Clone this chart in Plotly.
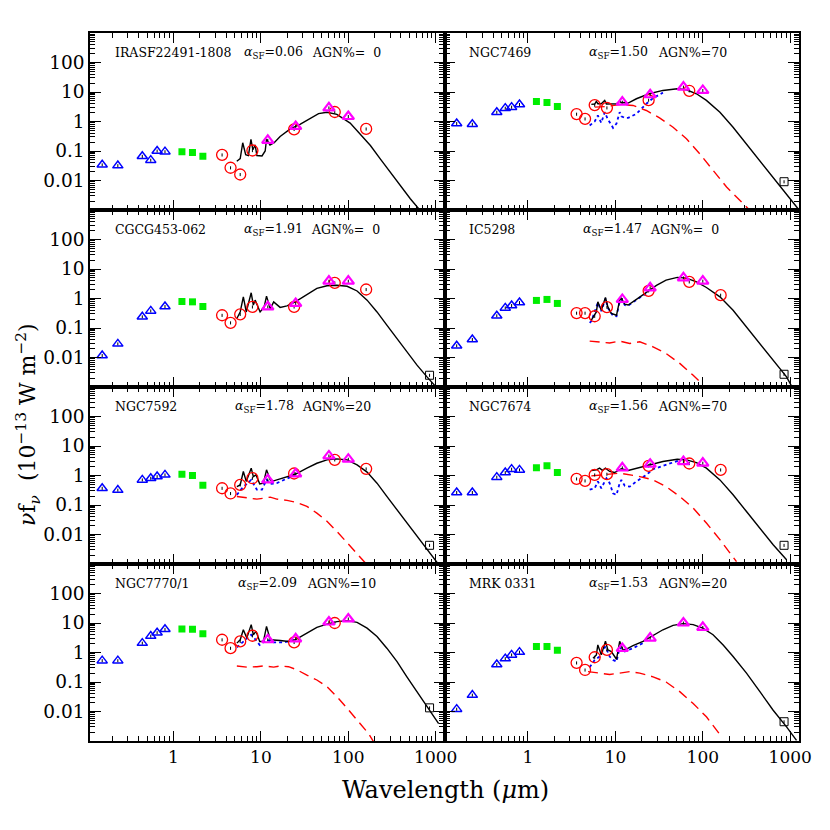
import plotly.graph_objects as go
from plotly.subplots import make_subplots

# common band wavelengths (micron)
opt_wl = [0.153, 0.231, 0.44, 0.55, 0.65, 0.80]
nir_wl = [1.25, 1.65, 2.17]
spitzer_wl = [3.6, 4.5, 5.8, 8.0, 24, 70, 160]
iras_wl = [12, 25, 60, 100]
submm_wl = [850]

names = ["IRASF22491-1808", "NGC7469", "CGCG453-062", "IC5298",
         "NGC7592", "NGC7674", "NGC7770/1", "MRK 0331"]
alpha_sf = ["0.06", "1.50", "1.91", "1.47", "1.78", "1.56", "2.09", "1.53"]
agn_pct = [" 0", "70", " 0", " 0", "20", "70", "10", "20"]

# ---- photometry (1e-13 W m^-2) ----
p1_opt = [0.034, 0.032, 0.066, 0.049, 0.10, 0.095]
p1_nir = [0.095, 0.089, 0.066]
p1_spz = [0.074, 0.027, 0.016, 0.104, 0.54, 2.1, 0.56]
p1_iras = [0.23, 0.68, 2.9, 1.48]
p1_sub = [None]

p2_opt = [0.855, 0.81, 2.07, 2.84, 3.07, 3.78]
p2_nir = [4.78, 4.4, 3.23]
p2_spz = [1.78, 1.23, 3.59, 2.91, 5.3, 11, None]
p2_iras = [4.54, 8.06, 14.7, 11.3]
p2_sub = [0.0091]

p3_opt = [0.0117, 0.029, 0.24, 0.38, None, 0.535]
p3_nir = [0.79, 0.77, 0.535]
p3_spz = [0.27, 0.15, 0.29, 0.52, 0.52, 3.4, 2.02]
p3_iras = [0.52, 0.68, 3.87, 3.87]
p3_sub = [0.0025]

p4_opt = [0.025, 0.041, 0.26, 0.48, 0.58, 0.73]
p4_nir = [0.86, 0.93, 0.68]
p4_spz = [0.32, 0.32, 0.25, 0.51, 1.82, 3.67, 1.3]
p4_iras = [0.93, 2.3, 5.0, 3.87]
p4_sub = [0.0027]

p5_opt = [0.37, 0.32, 0.71, 0.81, 0.92, 1.05]
p5_nir = [1.1, 1.0, 0.47]
p5_spz = [0.37, 0.246, 0.48, 0.81, 1.17, 3.4, 1.68]
p5_iras = [0.71, 1.14, 4.6, 3.57]
p5_sub = [0.0043]

p6_opt = [0.266, 0.266, 0.88, 1.26, 1.64, 1.55]
p6_nir = [1.82, 2.12, 1.26]
p6_spz = [0.77, 0.66, 1.05, 1.11, 2.12, 2.55, 1.55]
p6_iras = [1.82, 2.42, 2.97, 2.62]
p6_sub = [0.0043]

p7_opt = [0.53, 0.53, 2.08, 3.6, 4.7, 6.1]
p7_nir = [6.2, 6.1, 4.3]
p7_spz = [2.7, 1.4, 2.37, 3.7, 2.2, 10, None]
p7_iras = [2.7, 2.9, 10.8, 13.7]
p7_sub = [0.0133]

p8_opt = [0.012, 0.036, 0.39, 0.62, 0.83, 1.03]
p8_nir = [1.6, 1.6, 1.2]
p8_spz = [0.445, 0.256, 0.69, 1.23, None, None, None]
p8_iras = [1.37, 3.08, 10, 7.1]
p8_sub = [0.0045]

# ---- model curves: total (solid), starburst (dotted), AGN (dashed) ----
p1_tot_wl = [5.3, 5.8, 6.2, 6.7, 7.2, 7.7, 8.1, 8.6, 9.0, 10.3, 11.2, 11.6, 12.7, 14.2,
             16.6, 21.7, 28, 36.7, 45.7, 57, 74, 105, 137, 179, 232, 302, 394, 512, 693, 800]
p1_tot_f = [0.045, 0.055, 0.19, 0.075, 0.07, 0.25, 0.11, 0.16, 0.07, 0.068, 0.1, 0.25, 0.16, 0.19,
            0.31, 0.56, 0.8, 1.25, 1.85, 2.05, 1.75, 0.88, 0.38, 0.153, 0.054, 0.019, 0.0067,
            0.0024, 0.00083, 0.0005]

p2_tot_wl = [5.31, 5.8, 6.06, 6.3, 6.9, 7.55, 7.9, 8.6, 9.4, 10.3, 11.2, 11.7, 12.8, 14.0,
             17.4, 24.3, 35, 51, 65, 84.6, 110, 157, 222, 316, 450, 638, 908, 1230]
p2_tot_f = [3.8, 3.9, 4.8, 4.0, 4.0, 5.2, 3.9, 3.9, 3.8, 4.0, 4.9, 4.3, 4.4, 4.2,
            5.9, 8.7, 11.3, 12.9, 11.9, 8.7, 5.2, 2.07, 0.64, 0.17, 0.047, 0.013, 0.0035, 0.0011]
p2_sb_wl = [5.08, 5.31, 5.8, 6.3, 6.9, 7.55, 8.2, 9.4, 10.3, 11.2, 11.7, 12.8, 14.0, 17.4,
            22.6, 27, 35]
p2_sb_f = [0.73, 0.8, 1.0, 1.6, 0.9, 2.07, 1.2, 0.61, 0.85, 2.07, 1.5, 1.33, 1.33, 1.82,
           4.0, 6.2, 9.5]
p2_agn_wl = [5.8, 7.9, 11.2, 15.9, 22.6, 32, 45.7, 65, 92.4, 131, 187, 331]
p2_agn_f = [3.07, 3.23, 3.78, 3.5, 2.36, 1.33, 0.64, 0.26, 0.08, 0.022, 0.006, 0.0011]

p3_tot_wl = [5.31, 5.8, 6.3, 6.8, 7.75, 8.2, 8.6, 9.8, 10.9, 11.6, 12.8, 14.0, 16.6, 19.9,
             24.7, 33.6, 43.7, 57, 74, 97, 126, 164, 213, 276, 361, 468, 611, 795, 1080]
p3_tot_f = [0.21, 0.35, 1.14, 0.35, 1.56, 0.6, 0.88, 0.35, 0.52, 1.2, 0.45, 0.77, 0.5, 0.56,
            0.77, 1.4, 2.2, 2.7, 2.8, 2.6, 1.8, 0.88, 0.35, 0.125, 0.044, 0.0156, 0.0055,
            0.0022, 0.0008]

p4_tot_wl = [5.31, 6.06, 6.3, 6.9, 7.7, 8.2, 9.0, 10.3, 11.2, 11.7, 12.8, 14.0, 17.4, 22.6,
             29.5, 38, 51, 65, 84.6, 110, 157, 222, 316, 450, 638, 908, 1050]
p4_tot_f = [0.185, 0.35, 0.77, 0.4, 1.08, 0.52, 0.31, 0.27, 0.88, 1.0, 0.64, 0.6, 0.93, 1.56,
            2.8, 4.2, 5.2, 4.9, 3.67, 2.36, 1.14, 0.4, 0.11, 0.03, 0.0081, 0.0022, 0.001]
p4_sb_wl = [5.08, 5.31, 6.3, 6.9, 7.7, 8.2, 9.4, 10.3, 11.2, 11.7, 12.8, 14.0, 17.4, 22.6]
p4_sb_f = [0.15, 0.17, 0.72, 0.37, 1.0, 0.48, 0.26, 0.25, 0.8, 0.95, 0.6, 0.57, 0.9, 1.5]
p4_agn_wl = [5.08, 8.6, 11.2, 14.6, 19, 27, 38, 54.5, 77.6, 100]
p4_agn_f = [0.036, 0.031, 0.036, 0.03, 0.034, 0.023, 0.0137, 0.0063, 0.0025, 0.0012]

p5_tot_wl = [5.31, 5.8, 6.3, 6.8, 7.75, 8.2, 8.8, 9.7, 10.7, 11.6, 12.8, 14.0, 16.6, 20.7,
             24.7, 33.6, 43.7, 57, 74, 97, 126, 164, 213, 276, 361, 468, 611, 795, 1080]
p5_tot_f = [0.42, 0.48, 1.37, 0.63, 1.77, 0.92, 1.05, 0.52, 0.55, 1.56, 0.71, 0.66, 0.77, 0.92,
            1.1, 1.77, 2.6, 3.4, 3.66, 3.4, 2.3, 1.3, 0.55, 0.195, 0.069, 0.0245, 0.0087,
            0.0031, 0.00096]
p5_sb_wl = [5.31, 6.3, 6.9, 7.75, 9.0, 10.3, 11.6, 12.8, 15.2, 19.9, 24.7]
p5_sb_f = [0.22, 0.42, 0.52, 0.71, 0.33, 0.33, 0.71, 0.52, 0.55, 0.81, 1.05]
p5_agn_wl = [5.31, 6.9, 9.0, 10.7, 12.8, 15.2, 19.9, 25.8, 33.6, 43.7, 57, 74, 97, 126, 156]
p5_agn_f = [0.195, 0.176, 0.158, 0.17, 0.185, 0.158, 0.143, 0.122, 0.09, 0.053, 0.028,
            0.0128, 0.0052, 0.0021, 0.0011]

p6_tot_wl = [5.31, 6.06, 6.6, 7.1, 7.7, 8.6, 9.8, 11.2, 11.7, 14.0, 17.4, 24.3, 35, 51, 65,
             84.6, 110, 157, 222, 316, 450, 638, 908]
p6_tot_f = [1.48, 1.55, 1.77, 1.5, 1.77, 1.37, 1.26, 1.55, 1.7, 1.48, 1.77, 2.3, 2.97, 3.57,
            3.4, 2.75, 1.77, 0.71, 0.222, 0.06, 0.0165, 0.0045, 0.0014]
p6_sb_wl = [5.08, 5.8, 6.3, 6.9, 7.9, 8.6, 9.4, 10.3, 11.2, 11.7, 12.8, 14.6, 17.4, 22.6, 27,
            35, 45.7, 54.5]
p6_sb_f = [0.33, 0.37, 0.63, 0.37, 0.81, 0.55, 0.25, 0.22, 0.55, 0.71, 0.45, 0.42, 0.63, 1.05,
           1.64, 2.12, 2.75, 3.3]
p6_agn_wl = [5.31, 6.6, 8.6, 11.2, 14.6, 19, 27, 38, 54.5, 77.6, 110, 157, 243]
p6_agn_f = [0.97, 1.05, 1.11, 1.2, 1.05, 0.92, 0.71, 0.42, 0.195, 0.079, 0.0245, 0.0067, 0.0012]

p7_tot_wl = [5.31, 5.8, 6.3, 6.9, 7.75, 8.2, 8.8, 9.7, 10.7, 11.6, 12.8, 14.0, 16.6, 20.7,
             24.7, 33.6, 43.7, 57, 74, 97, 126, 164, 213, 276, 361, 468, 611, 795, 1080]
p7_tot_f = [2.08, 2.7, 5.9, 3.1, 8.8, 4.0, 5.2, 2.37, 2.37, 7.7, 2.7, 2.7, 2.56, 2.37,
            2.7, 4.55, 7.1, 9.2, 11.1, 12.0, 10.5, 6.7, 3.5, 1.4, 0.49, 0.15, 0.047, 0.0145, 0.0039]
p7_sb_wl = [5.31, 6.3, 7.75, 8.8, 9.7, 11.6, 14.0, 18.2, 24.7]
p7_sb_f = [1.5, 2.37, 4.0, 2.6, 1.8, 2.7, 2.2, 2.2, 2.7]
p7_agn_wl = [5.31, 6.9, 9.0, 10.7, 14.0, 16.6, 20.7, 25.8, 33.6, 43.7, 57, 74, 97, 126, 170, 195]
p7_agn_f = [0.35, 0.32, 0.33, 0.35, 0.32, 0.35, 0.33, 0.26, 0.17, 0.117, 0.069, 0.032,
            0.0128, 0.0051, 0.0018, 0.00093]

p8_tot_wl = [5.55, 6.06, 6.3, 6.9, 7.7, 8.2, 9.0, 10.3, 11.2, 12.2, 13.4, 15.9, 20.7, 27, 35,
             45.7, 59.5, 77.6, 100, 131, 171, 222, 316, 450, 638, 908, 1180]
p8_tot_f = [0.64, 0.83, 1.8, 0.83, 2.4, 1.23, 1.08, 0.59, 2.4, 1.23, 1.3, 1.7, 2.37, 3.7, 5.9,
            8.3, 9.5, 8.8, 6.75, 4.0, 1.8, 0.73, 0.2, 0.047, 0.011, 0.003, 0.00105]
p8_sb_wl = [5.08, 5.8, 6.6, 7.7, 8.6, 9.4, 10.3, 11.2, 12.8, 15.9, 20.7]
p8_sb_f = [0.316, 0.56, 0.73, 1.6, 0.73, 0.56, 0.49, 1.5, 1.08, 1.4, 2.08]
p8_agn_wl = [4.86, 6.6, 8.6, 11.2, 14.6, 19, 27, 38, 54.5, 77.6, 110, 164]
p8_agn_f = [0.225, 0.2, 0.18, 0.2, 0.225, 0.2, 0.15, 0.1, 0.047, 0.0188, 0.0066, 0.0014]

# text x offsets (px from panel left edge) as in the original figure
alpha_dx = [152, 142, 152, 136, 143, 142, 146, 142]
agn_dx = [220, 211, 219, 203, 210, 211, 215, 211]

panels = [
    (p1_opt, p1_nir, p1_spz, p1_iras, p1_sub, (p1_tot_wl, p1_tot_f), None, None),
    (p2_opt, p2_nir, p2_spz, p2_iras, p2_sub, (p2_tot_wl, p2_tot_f),
     (p2_sb_wl, p2_sb_f), (p2_agn_wl, p2_agn_f)),
    (p3_opt, p3_nir, p3_spz, p3_iras, p3_sub, (p3_tot_wl, p3_tot_f), None, None),
    (p4_opt, p4_nir, p4_spz, p4_iras, p4_sub, (p4_tot_wl, p4_tot_f),
     (p4_sb_wl, p4_sb_f), (p4_agn_wl, p4_agn_f)),
    (p5_opt, p5_nir, p5_spz, p5_iras, p5_sub, (p5_tot_wl, p5_tot_f),
     (p5_sb_wl, p5_sb_f), (p5_agn_wl, p5_agn_f)),
    (p6_opt, p6_nir, p6_spz, p6_iras, p6_sub, (p6_tot_wl, p6_tot_f),
     (p6_sb_wl, p6_sb_f), (p6_agn_wl, p6_agn_f)),
    (p7_opt, p7_nir, p7_spz, p7_iras, p7_sub, (p7_tot_wl, p7_tot_f),
     (p7_sb_wl, p7_sb_f), (p7_agn_wl, p7_agn_f)),
    (p8_opt, p8_nir, p8_spz, p8_iras, p8_sub, (p8_tot_wl, p8_tot_f),
     (p8_sb_wl, p8_sb_f), (p8_agn_wl, p8_agn_f)),
]

# page body adds an 8px offset, so the figure box is pulled back by that much
OFF = 8
W, H = 830, 830
X0, X1, Y0, Y1 = 90, 799, 33, 741          # wanted plot box on the page
ML, MT = X0 - OFF, Y0 - OFF
MR, MB = W - (X1 - OFF), H - (Y1 - OFF)
PW, PH = X1 - X0, Y1 - Y0
FONT = "DejaVu Serif"


def px(x):
    return (x - X0) / PW


def py(y):
    return 1 - (y - Y0) / PH


fig = make_subplots(rows=4, cols=2, horizontal_spacing=0, vertical_spacing=0)

err = dict(type="percent", value=12, color="black", thickness=1, width=0)

for i, (opt, nir, spz, iras, sub, tot, sb, agn) in enumerate(panels):
    r, c = i // 2 + 1, i % 2 + 1
    if sb:
        fig.add_trace(go.Scatter(x=sb[0], y=sb[1], mode="lines",
                                 line=dict(color="blue", width=1.8, dash="dot")), row=r, col=c)
    if agn:
        fig.add_trace(go.Scatter(x=agn[0], y=agn[1], mode="lines",
                                 line=dict(color="red", width=1.4, dash="10px,6px")), row=r, col=c)
    fig.add_trace(go.Scatter(x=tot[0], y=tot[1], mode="lines",
                             line=dict(color="black", width=1.4)), row=r, col=c)
    fig.add_trace(go.Scatter(x=opt_wl, y=opt, mode="markers", error_y=err,
                             marker=dict(symbol="triangle-up-open", size=9, color="blue",
                                         line=dict(width=1.5))), row=r, col=c)
    fig.add_trace(go.Scatter(x=nir_wl, y=nir, mode="markers", error_y=err,
                             marker=dict(symbol="square", size=7, color="#00ee00",
                                         line=dict(width=0))), row=r, col=c)
    fig.add_trace(go.Scatter(x=spitzer_wl, y=spz, mode="markers", error_y=err,
                             marker=dict(symbol="circle-open", size=11, color="red",
                                         line=dict(width=1.3))), row=r, col=c)
    fig.add_trace(go.Scatter(x=iras_wl, y=iras, mode="markers", error_y=err,
                             marker=dict(symbol="triangle-up-open", size=10, color="magenta",
                                         line=dict(width=2.2))), row=r, col=c)
    fig.add_trace(go.Scatter(x=submm_wl, y=sub, mode="markers", error_y=err,
                             marker=dict(symbol="square-open", size=8, color="black",
                                         line=dict(width=1))), row=r, col=c)

    left = X0 + (c - 1) * PW / 2
    top = Y0 + (r - 1) * PH / 4
    ty = py(top + 19.5)
    tfont = dict(family=FONT, size=12.5, color="black")
    fig.add_annotation(x=px(left + 23), y=ty, xref="paper", yref="paper",
                       text=names[i], showarrow=False, xanchor="left", yanchor="middle", font=tfont)
    fig.add_annotation(x=px(left + alpha_dx[i]), y=ty, xref="paper", yref="paper",
                       text="<i>α</i><sub>SF</sub>=" + alpha_sf[i], showarrow=False,
                       xanchor="left", yanchor="middle", font=tfont)
    fig.add_annotation(x=px(left + agn_dx[i]), y=ty, xref="paper", yref="paper",
                       text="AGN%=" + agn_pct[i].replace(" ", "\u00a0\u00a0"), showarrow=False,
                       xanchor="left", yanchor="middle", font=tfont)

x_minor = [m * 10 ** k for k in range(-1, 3) for m in range(2, 10)]
y_minor = [m * 10 ** k for k in range(-3, 3) for m in range(2, 10)]

for i in range(8):
    r, c = i // 2 + 1, i % 2 + 1
    fig.update_xaxes(type="log", range=[-0.9547, 3.1004], tickmode="array",
                     tickvals=[1, 10, 100, 1000], ticktext=["1", "10", "100", "1000"],
                     showticklabels=(r == 4), ticks="inside", ticklen=10, tickwidth=1.3,
                     tickcolor="black", showline=True, linecolor="black", linewidth=1.5,
                     mirror="allticks", showgrid=False, zeroline=False, automargin=False,
                     minor=dict(tickmode="array", tickvals=x_minor, ticks="inside",
                                ticklen=5, tickwidth=1.2, tickcolor="black", showgrid=False),
                     tickfont=dict(family=FONT, size=17, color="black"),
                     row=r, col=c)
    fig.update_yaxes(type="log", range=[-3, 3], tickmode="array",
                     tickvals=[0.001, 0.01, 0.1, 1, 10, 100, 1000],
                     ticktext=["", "0.01", "0.1", "1", "10", "100", ""],
                     showticklabels=(c == 1), ticks="inside", ticklen=11, tickwidth=1.3,
                     tickcolor="black", showline=True, linecolor="black", linewidth=1.5,
                     mirror="allticks", showgrid=False, zeroline=False, automargin=False,
                     minor=dict(tickmode="array", tickvals=y_minor, ticks="inside",
                                ticklen=5.5, tickwidth=1.2, tickcolor="black", showgrid=False),
                     tickfont=dict(family=FONT, size=18.5, color="black"),
                     row=r, col=c)

fig.add_annotation(x=px(445), y=py(790), xref="paper", yref="paper",
                   text="Wavelength (<i>μ</i>m)", showarrow=False,
                   xanchor="center", yanchor="middle",
                   font=dict(family=FONT, size=24, color="black"))
fig.add_annotation(x=px(28), y=py(425), xref="paper", yref="paper",
                   text="<i>ν</i>f<sub><i>ν</i></sub>  (10<sup>−13</sup> W m<sup>−2</sup>)",
                   textangle=-90, showarrow=False, xanchor="center", yanchor="middle",
                   font=dict(family=FONT, size=22, color="black"))

fig.update_layout(width=W, height=H, showlegend=False,
                  margin=dict(l=ML, r=MR, t=MT, b=MB, autoexpand=False),
                  plot_bgcolor="white", paper_bgcolor="white")

fig.write_html("out.html")
